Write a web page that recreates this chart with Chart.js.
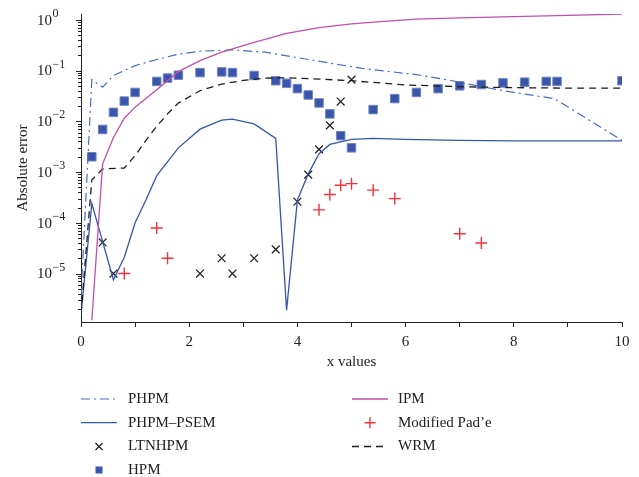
<!DOCTYPE html>
<html>
<head>
<meta charset="utf-8">
<script src="https://cdn.jsdelivr.net/npm/chart.js@4.4.1/dist/chart.umd.min.js"></script>
<style>
  html, body { margin: 0; padding: 0; background: #fff; }
  #wrap { width: 639px; height: 477px; }
</style>
</head>
<body>
<div id="wrap"><canvas id="errChart" width="639" height="477"></canvas></div>
<script>
// values (log y axis)
const phpmX = [0, 0.2, 0.4, 0.6, 0.8, 1.0, 1.4, 1.8, 2.2, 2.8, 3.4, 4.0, 4.6, 5.2, 6.2, 6.8, 7.4, 8.0, 8.75, 10];
const phpmY = [3.5e-6, 0.066, 0.047, 0.08, 0.1, 0.125, 0.165, 0.21, 0.24, 0.255, 0.23, 0.18, 0.14, 0.11, 0.083, 0.065, 0.048, 0.037, 0.028, 0.0042];

const psemX = [0, 0.2, 0.6, 0.8, 1.0, 1.2, 1.4, 1.8, 2.2, 2.6, 2.8, 3.2, 3.6, 3.8, 4.0, 4.2, 4.4, 4.6, 5.0, 5.4, 6.0, 7.0, 8.0, 10];
const psemY = [1.5e-6, 2.4e-4, 7.5e-6, 2.1e-5, 1.0e-4, 2.8e-4, 8.5e-4, 3.0e-3, 7.0e-3, 1.05e-2, 1.1e-2, 8.9e-3, 4.6e-3, 1.9e-6, 2.8e-4, 9.2e-4, 2.3e-3, 3.5e-3, 4.4e-3, 4.6e-3, 4.4e-3, 4.2e-3, 4.1e-3, 4.1e-3];

const ipmX = [0.2, 0.4, 0.6, 0.8, 1.0, 1.4, 1.8, 2.2, 2.6, 3.2, 3.8, 4.4, 5.0, 5.6, 6.2, 7.0, 8.0, 9.0, 10];
const ipmY = [1.2e-6, 1.45e-3, 4.8e-3, 1.15e-2, 1.9e-2, 4.2e-2, 0.095, 0.157, 0.23, 0.36, 0.54, 0.70, 0.83, 0.93, 1.03, 1.09, 1.15, 1.22, 1.3];

const wrmX = [0, 0.2, 0.4, 0.8, 1.0, 1.2, 1.4, 1.6, 1.8, 2.2, 2.6, 3.0, 3.4, 3.8, 4.4, 5.0, 6.0, 7.0, 8.0, 9.0, 10];
const wrmY = [1.6e-6, 7e-4, 1.15e-3, 1.2e-3, 2.1e-3, 4.2e-3, 8e-3, 0.014, 0.023, 0.040, 0.054, 0.064, 0.071, 0.072, 0.068, 0.063, 0.052, 0.048, 0.046, 0.045, 0.045];

const ltnX = [0.4, 0.6, 2.2, 2.6, 2.8, 3.2, 3.6, 4.0, 4.2, 4.4, 4.6, 4.8, 5.0];
const ltnY = [4.1e-5, 1.0e-5, 1.0e-5, 2.0e-5, 1.0e-5, 2.0e-5, 3.0e-5, 2.6e-4, 8.9e-4, 2.8e-3, 8.3e-3, 0.0245, 0.066];

const hpmX = [0.2, 0.4, 0.6, 0.8, 1.0, 1.4, 1.6, 1.8, 2.2, 2.6, 2.8, 3.2, 3.6, 3.8, 4.0, 4.2, 4.4, 4.6, 4.8, 5.0, 5.4, 5.8, 6.2, 6.6, 7.0, 7.4, 7.8, 8.2, 8.6, 8.8, 10];
const hpmY = [2.0e-3, 6.9e-3, 0.015, 0.025, 0.037, 0.061, 0.071, 0.081, 0.091, 0.094, 0.091, 0.080, 0.063, 0.056, 0.044, 0.033, 0.023, 0.014, 0.0052, 0.0030, 0.017, 0.028, 0.037, 0.044, 0.050, 0.053, 0.057, 0.059, 0.061, 0.061, 0.063];

const padeX = [0.8, 1.4, 1.6, 4.4, 4.6, 4.8, 5.0, 5.4, 5.8, 7.0, 7.4];
const padeY = [1.0e-5, 7.9e-5, 2.0e-5, 1.8e-4, 3.6e-4, 5.5e-4, 5.9e-4, 4.4e-4, 3.0e-4, 6.1e-5, 4.0e-5];

const xLabelTicks = [0, 2, 4, 6, 8, 10];
const yDecades = [0, -1, -2, -3, -4, -5];
const yMin = 1.11e-6, yMax = 1.3;

const FONT = '"Liberation Serif", "Times New Roman", serif';
const INK = '#222';

const pts = (xs, ys) => xs.map((x, i) => ({ x: x, y: ys[i] }));

// legend layout: [column, row]
const legendSlots = {
  'PHPM': [0, 0], 'PHPM–PSEM': [0, 1], 'LTNHPM': [0, 2], 'HPM': [0, 3],
  'IPM': [1, 0], 'Modified Pad’e': [1, 1], 'WRM': [1, 2]
};

const extras = {
  id: 'extras',
  afterDraw(chart) {
    const ctx = chart.ctx;
    const y = chart.scales.y;
    const area = chart.chartArea;
    ctx.save();
    // y ticks (major at decades, minor between)
    ctx.strokeStyle = INK;
    ctx.lineWidth = 1;
    y.ticks.forEach(t => {
      const p = Math.round(y.getPixelForValue(t.value)) + 0.5;
      const major = Math.abs(Math.log10(t.value) - Math.round(Math.log10(t.value))) < 1e-9;
      ctx.beginPath();
      ctx.moveTo(area.left - (major ? 5 : 3), p);
      ctx.lineTo(area.left, p);
      ctx.stroke();
    });
    // y labels as 10^k
    ctx.fillStyle = INK;
    ctx.textBaseline = 'middle';
    yDecades.forEach(k => {
      const p = y.getPixelForValue(Math.pow(10, k));
      ctx.font = '15px ' + FONT;
      ctx.textAlign = 'left';
      ctx.fillText('10', 37, p + 1);
      const w = ctx.measureText('10').width;
      ctx.font = '12px ' + FONT;
      const e = k < 0 ? '−' + (-k) : String(k);
      ctx.fillText(e, 37 + w + 0.5, p - 6);
    });
    // axis titles
    ctx.font = '15px ' + FONT;
    ctx.textAlign = 'center';
    ctx.fillText('x values', (area.left + area.right) / 2, 362);
    ctx.save();
    ctx.translate(23, (area.top + area.bottom) / 2);
    ctx.rotate(-Math.PI / 2);
    ctx.fillText('Absolute error', 0, 0);
    ctx.restore();

    // legend
    const colX = [81, 352], textX = [128, 398], rowY = [399, 422.7, 446.5, 470];
    chart.data.datasets.forEach(ds => {
      const slot = legendSlots[ds.label];
      if (!slot) return;
      const sx = colX[slot[0]], ly = rowY[slot[1]];
      ctx.save();
      if (ds.showLine !== false) {
        ctx.strokeStyle = ds.borderColor;
        ctx.lineWidth = ds.borderWidth;
        ctx.setLineDash(ds.borderDash || []);
        ctx.beginPath();
        ctx.moveTo(sx, ly);
        ctx.lineTo(sx + 36, ly);
        ctx.stroke();
      } else {
        const cx = sx + 18;
        ctx.strokeStyle = ds.pointBorderColor;
        ctx.fillStyle = ds.pointBackgroundColor;
        ctx.lineWidth = ds.pointBorderWidth;
        if (ds.pointStyle === 'rect') {
          ctx.fillRect(cx - 3.5, ly - 3.5, 7, 7);
        } else if (ds.pointStyle === 'crossRot') {
          ctx.beginPath();
          ctx.moveTo(cx - 3.5, ly - 3.5); ctx.lineTo(cx + 3.5, ly + 3.5);
          ctx.moveTo(cx + 3.5, ly - 3.5); ctx.lineTo(cx - 3.5, ly + 3.5);
          ctx.stroke();
        } else {
          ctx.beginPath();
          ctx.moveTo(cx - 5.5, ly); ctx.lineTo(cx + 5.5, ly);
          ctx.moveTo(cx, ly - 5.5); ctx.lineTo(cx, ly + 5.5);
          ctx.stroke();
        }
      }
      ctx.restore();
      ctx.font = '15px ' + FONT;
      ctx.fillStyle = INK;
      ctx.textAlign = 'left';
      ctx.textBaseline = 'middle';
      ctx.fillText(ds.label, textX[slot[0]], ly);
    });
    ctx.restore();
  }
};

const lineSet = (label, xs, ys, color, dash, width) => ({
  label: label, data: pts(xs, ys), borderColor: color, borderWidth: width,
  borderDash: dash, pointRadius: 0, tension: 0, fill: false
});
const markSet = (label, xs, ys, style, radius, fillC, edgeC, edgeW) => ({
  label: label, data: pts(xs, ys), showLine: false, pointStyle: style,
  pointRadius: radius, pointBackgroundColor: fillC, pointBorderColor: edgeC,
  pointBorderWidth: edgeW
});

new Chart(document.getElementById('errChart'), {
  type: 'line',
  data: {
    datasets: [
      lineSet('IPM', ipmX, ipmY, '#c24fa9', [], 1.3),
      lineSet('WRM', wrmX, wrmY, '#1c1c1c', [7, 5], 1.3),
      lineSet('PHPM', phpmX, phpmY, '#4a6cc4', [9, 4, 2, 4], 1.2),
      lineSet('PHPM–PSEM', psemX, psemY, '#3656ac', [], 1.3),
      markSet('HPM', hpmX, hpmY, 'rect', 6, '#3a55aa', '#6d84c4', 1),
      markSet('LTNHPM', ltnX, ltnY, 'crossRot', 5.5, INK, INK, 1.3),
      markSet('Modified Pad’e', padeX, padeY, 'cross', 6, '#f2323c', '#f2323c', 1.4)
    ]
  },
  options: {
    responsive: false,
    animation: false,
    events: [],
    devicePixelRatio: 1,
    layout: { padding: { left: 0, right: 17, top: 14, bottom: 0 } },
    plugins: { legend: { display: false }, tooltip: { enabled: false } },
    scales: {
      x: {
        type: 'linear', min: 0, max: 10,
        afterFit: s => { s.height = 155; },
        grid: { display: true, drawOnChartArea: false, drawTicks: true, tickLength: 5, color: INK },
        border: { display: true, color: INK, width: 1 },
        ticks: {
          stepSize: 1, autoSkip: false, maxRotation: 0, padding: 6,
          color: INK, font: { family: FONT, size: 15 },
          callback: v => xLabelTicks.includes(v) ? String(v) : ''
        }
      },
      y: {
        type: 'logarithmic', min: yMin, max: yMax,
        afterFit: s => { s.width = 81; },
        afterBuildTicks: s => {
          const list = [];
          for (let e = -6; e <= 0; e++) {
            for (let m = 1; m <= 9; m++) {
              const v = m * Math.pow(10, e);
              if (v >= yMin && v <= yMax) list.push({ value: v });
            }
          }
          s.ticks = list;
        },
        grid: { display: false },
        border: { display: true, color: INK, width: 1 },
        ticks: { display: false }
      }
    }
  },
  plugins: [extras]
});
</script>
</body>
</html>
